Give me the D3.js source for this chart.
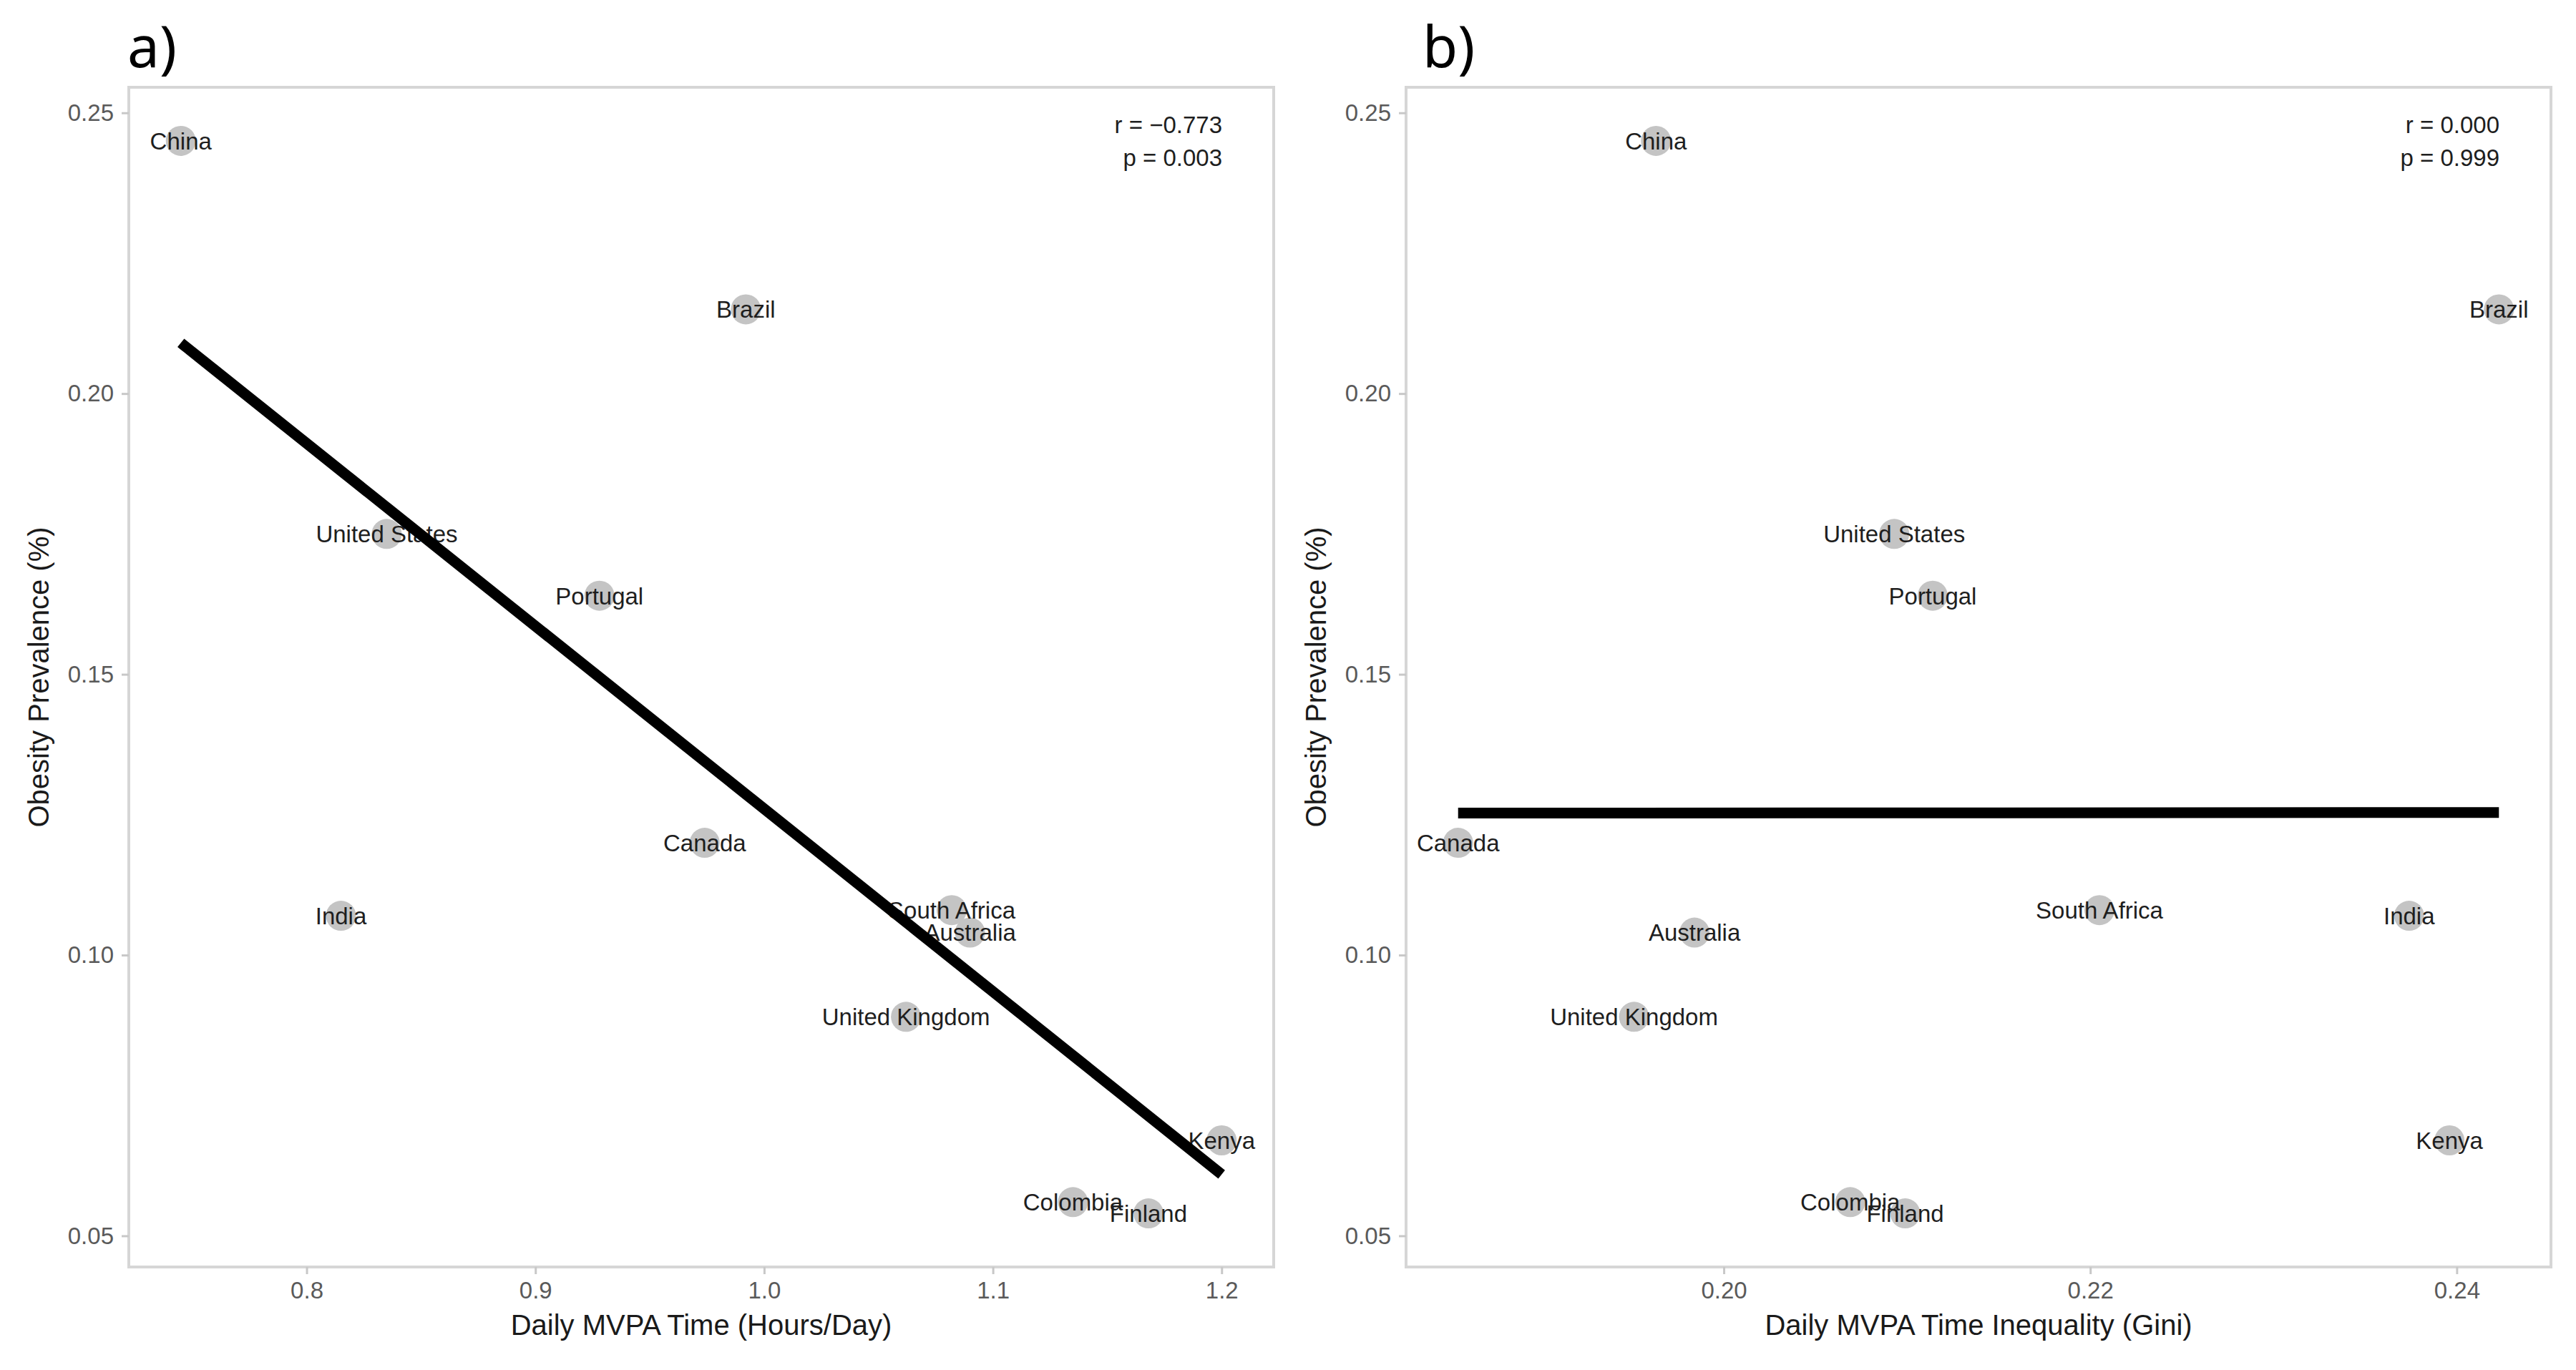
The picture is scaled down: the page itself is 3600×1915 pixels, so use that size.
<!DOCTYPE html>
<html>
<head>
<meta charset="utf-8">
<script src="https://cdn.jsdelivr.net/npm/d3@7"></script>
<style>
  body { margin: 0; background: #fff; }
  text { font-family: "Liberation Sans", Arial, sans-serif; }
</style>
</head>
<body>
<div id="chart"></div>
<script>
// values
const countries = ["China", "Brazil", "United States", "Portugal", "Canada", "India",
  "South Africa", "Australia", "United Kingdom", "Kenya", "Colombia", "Finland"];
const mvpaTime = [0.745, 0.992, 0.835, 0.928, 0.974, 0.815, 1.082, 1.090, 1.062, 1.200, 1.135, 1.168];
const mvpaGini = [0.1963, 0.2423, 0.2093, 0.2114, 0.1855, 0.2374, 0.2205, 0.1984, 0.1951, 0.2396, 0.2069, 0.2099];
const obesity  = [0.245, 0.215, 0.175, 0.164, 0.120, 0.107, 0.108, 0.104, 0.089, 0.067, 0.056, 0.054];

const panelTags = ["a)", "b)"];
const xTitles = ["Daily MVPA Time (Hours/Day)", "Daily MVPA Time Inequality (Gini)"];
const yTitle = "Obesity Prevalence (%)";
const rLabels = ["r = \u22120.773", "r = 0.000"];
const pLabels = ["p = 0.003", "p = 0.999"];
const xTicksA = [0.8, 0.9, 1.0, 1.1, 1.2];
const xTicksB = [0.20, 0.22, 0.24];
const yTicks = [0.05, 0.10, 0.15, 0.20, 0.25];

const W = 3600, H = 1915;
const svg = d3.select("#chart").append("svg")
  .attr("width", W).attr("height", H);

// ggplot-style 5% expansion
const expand = (arr) => {
  const [lo, hi] = d3.extent(arr);
  const pad = (hi - lo) * 0.05;
  return [lo - pad, hi + pad];
};

const render = (opts) => {
  const { left, right, top, bottom, xs, xTicks, xFmt, idx, tagX } = opts;
  const g = svg.append("g");

  const x = d3.scaleLinear().domain(expand(xs)).range([left, right]);
  const y = d3.scaleLinear().domain(expand(obesity)).range([bottom, top]);

  const pts = countries.map((c, i) => ({ name: c, x: xs[i], y: obesity[i] }));

  // panel border
  g.append("rect")
    .attr("x", left).attr("y", top)
    .attr("width", right - left).attr("height", bottom - top)
    .attr("fill", "none").attr("stroke", "#d6d6d6").attr("stroke-width", 4);

  // axes
  const yAxis = g.append("g")
    .attr("transform", `translate(${left},0)`)
    .call(d3.axisLeft(y).tickValues(yTicks).tickFormat(d3.format(".2f")).tickSize(10).tickPadding(11));
  const xAxis = g.append("g")
    .attr("transform", `translate(0,${bottom})`)
    .call(d3.axisBottom(x).tickValues(xTicks).tickFormat(d3.format(xFmt)).tickSize(10).tickPadding(11));
  [yAxis, xAxis].forEach(a => {
    a.select(".domain").remove();
    a.selectAll(".tick line").attr("stroke", "#c8c8c8").attr("stroke-width", 3);
    a.selectAll(".tick text").attr("fill", "#5a5a5a")
      .style("font-size", "33px").style("font-family", "Liberation Sans, Arial, sans-serif");
  });

  // points
  g.selectAll("circle.pt").data(pts).join("circle")
    .attr("class", "pt")
    .attr("cx", d => x(d.x)).attr("cy", d => y(d.y))
    .attr("r", 21).attr("fill", "#c4c4c4");

  g.selectAll("text.lab").data(pts).join("text")
    .attr("class", "lab")
    .attr("x", d => x(d.x)).attr("y", d => y(d.y))
    .attr("dy", "0.36em")
    .attr("text-anchor", "middle")
    .style("font-size", "33px").attr("fill", "#1e1e1e")
    .text(d => d.name);

  // least squares fit
  const mx = d3.mean(xs), my = d3.mean(obesity);
  const sxy = d3.sum(xs, (v, i) => (v - mx) * (obesity[i] - my));
  const sxx = d3.sum(xs, v => (v - mx) * (v - mx));
  const slope = sxy / sxx, icpt = my - slope * mx;
  const [x0, x1] = d3.extent(xs);
  g.append("path")
    .datum([x0, x1])
    .attr("d", d3.line().x(d => x(d)).y(d => y(icpt + slope * d)))
    .attr("stroke", "#000").attr("stroke-width", 15).attr("fill", "none");

  // r / p
  g.append("text").attr("x", right - 72).attr("y", 186)
    .attr("text-anchor", "end").style("font-size", "33px").attr("fill", "#1e1e1e")
    .text(rLabels[idx]);
  g.append("text").attr("x", right - 72).attr("y", 232)
    .attr("text-anchor", "end").style("font-size", "33px").attr("fill", "#1e1e1e")
    .text(pLabels[idx]);

  // titles
  g.append("text")
    .attr("x", (left + right) / 2).attr("y", 1866)
    .attr("text-anchor", "middle").style("font-size", "40px").attr("fill", "#1a1a1a")
    .text(xTitles[idx]);
  g.append("text")
    .attr("transform", `translate(${left - 112},${(top + bottom) / 2}) rotate(-90)`)
    .attr("text-anchor", "middle").style("font-size", "40px").attr("fill", "#1a1a1a")
    .text(yTitle);

  g.append("text")
    .attr("x", tagX).attr("y", 94)
    .style("font-family", "Noto Sans, sans-serif").style("font-size", "80px").attr("fill", "#000")
    .text(panelTags[idx]);
};

render({ left: 180, right: 1780, top: 122, bottom: 1771, xs: mvpaTime, xTicks: xTicksA, xFmt: ".1f", idx: 0, tagX: 178 });
render({ left: 1965, right: 3565, top: 122, bottom: 1771, xs: mvpaGini, xTicks: xTicksB, xFmt: ".2f", idx: 1, tagX: 1988 });
</script>
</body>
</html>
